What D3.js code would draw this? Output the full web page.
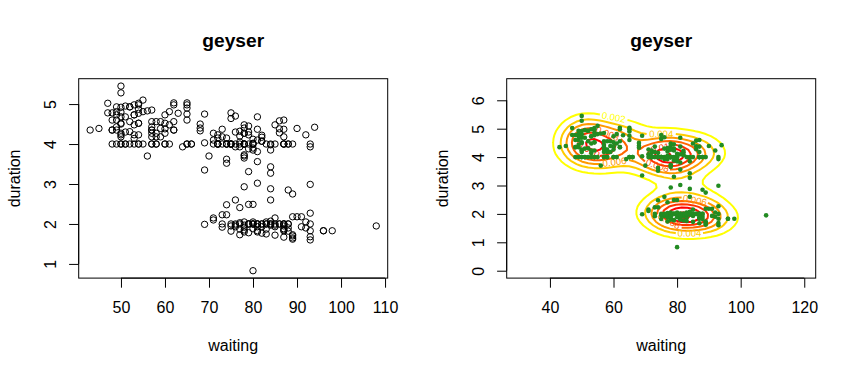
<!DOCTYPE html>
<html><head><meta charset="utf-8">
<script src="https://cdn.jsdelivr.net/npm/d3@7"></script>
<style>
body{margin:0;background:#fff}
text{font-family:"Liberation Sans",Arial,Helvetica,sans-serif}
</style>
</head><body>
<svg id="chart" width="856" height="376"></svg>
<script>
// ---- data ----
const waiting = [80,71,57,80,75,77,60,86,77,56,81,50,89,54,90,73,60,83,65,82,
84,54,85,58,79,57,88,68,76,78,74,85,75,65,76,58,91,50,87,48,
93,54,86,53,78,52,83,60,87,49,80,60,92,43,89,60,84,69,74,71,
108,50,77,57,80,61,82,48,81,73,62,79,54,80,73,81,62,81,71,79,
81,74,59,81,66,87,53,80,50,87,51,82,58,81,49,92,50,88,62,93,
56,89,51,79,58,82,52,88,52,78,69,75,77,53,80,55,87,53,85,61,
93,54,76,80,81,59,86,78,71,77,76,94,75,50,83,82,72,77,75,65,
79,72,78,77,79,75,78,64,80,49,88,54,85,51,96,50,80,78,81,72,
75,78,87,69,55,83,49,82,57,84,57,84,73,78,57,79,57,90,62,87,
78,52,98,48,78,79,65,84,50,83,60,80,50,88,50,84,74,76,65,89,
49,88,51,78,85,65,75,77,69,92,68,87,61,81,55,93,53,84,70,73,
93,50,87,77,74,72,82,74,80,49,91,53,86,49,79,89,87,76,59,80,
89,45,93,72,71,54,79,74,65,78,57,87,72,84,47,84,57,87,68,86,
75,73,53,82,93,77,54,96,48,89,63,84,76,62,83,50,85,78,78,81,
78,76,74,81,66,84,48,93,47,87,51,78,54,87,52,85,58,88,79];

const duration = [4.02,2.15,4.0,4.0,4.0,2.0,4.38,4.28,2.03,4.83,1.83,5.45,1.62,4.87,4.39,2.0,4.0,1.87,5.03,4.07,
2.88,4.52,1.93,4.0,2.0,4.35,4.0,4.5,3.93,4.27,3.52,4.48,1.95,4.9,2.6,4.18,2.18,4.8,1.83,4.35,
2.99,4.77,2.0,4.98,2.93,4.93,1.75,4.52,2.0,4.6,2.0,4.0,1.9,4.35,1.7,4.73,4.0,4.75,4.15,4.1,
1.95,5.28,2.41,4.43,2.0,4.81,1.77,4.0,3.56,2.23,5.03,2.0,4.0,4.0,4.37,1.8,4.56,4.1,4.27,4.3,
4.68,2.48,4.18,2.0,4.0,1.85,4.14,2.0,4.52,1.67,4.95,1.93,4.27,2.0,4.0,2.05,4.92,2.85,4.98,1.68,
3.7,1.73,4.0,2.49,4.56,2.0,4.31,1.9,4.0,4.0,3.35,4.64,1.73,4.73,2.49,4.81,2.0,4.23,1.97,4.48,
1.6,4.52,4.7,3.9,3.02,4.39,4.58,3.73,4.0,4.2,4.0,4.42,1.82,4.27,4.0,4.17,4.23,4.32,2.0,4.75,
4.23,4.0,4.48,3.93,3.31,4.78,1.85,3.93,2.05,4.43,1.82,4.0,2.0,4.68,1.83,4.18,3.85,4.0,4.37,4.15,
4.0,4.4,4.6,1.99,4.0,2.05,4.81,2.0,4.85,2.6,4.0,3.43,4.18,1.97,4.27,2.0,4.56,2.18,4.35,4.37,
2.05,4.93,1.83,4.6,3.7,1.78,4.6,2.0,4.0,2.0,4.27,1.88,4.23,2.0,4.5,3.98,4.0,1.93,4.0,2.75,
4.73,2.0,4.3,4.0,2.15,4.98,4.0,4.05,4.03,4.23,4.4,1.95,4.0,2.0,5.1,2.27,4.48,3.27,3.7,4.0,
1.83,4.0,4.18,4.0,3.62,4.0,4.07,4.0,0.83,4.93,1.93,4.0,2.0,4.35,4.45,4.0,4.0,1.97,4.56,4.12,
2.18,4.39,3.93,4.0,2.1,4.98,3.88,2.23,4.0,1.8,4.18,4.0,4.0,1.97,5.02,2.0,4.35,4.0,4.33,4.38,
4.0,1.92,4.73,4.22,4.0,1.87,5.02,1.83,4.78,1.65,4.77,3.85,2.0,4.35,2.0,4.68,4.0,4.27,3.65,3.81,
4.0,4.3,4.0,1.93,4.0,2.07,4.35,2.0,4.78,1.88,4.0,1.92,4.23,2.0,4.56,1.72,4.0,4.0,4.0];

const leftXTicks = [50,60,70,80,90,100,110];
const leftYTicks = [1,2,3,4,5];
const rightXTicks = [40,60,80,100,120];
const rightYTicks = [0,1,2,3,4,5,6];
const contourLevels = [0.002,0.004,0.006,0.008,0.010,0.012,0.014];
const contourColors = ["#FFFF00","#FFCC00","#FF9900","#FF6600","#FF3300","#FF0000","#FF0000"];
const kdeLims = [30,120,0,6.5];
const gridN = 50;
const titleText = "geyser";
const xLabel = "waiting";
const yLabel = "duration";

// ---- layout ----
const svg = d3.select("#chart");
svg.append("rect").attr("width",856).attr("height",376).attr("fill","#fff");
const panels = [
  {x0:78.7, x1:387.7},
  {x0:506.7, x1:815.7}
];
const plotTop = 78.7, plotBottom = 278.1;
const TICK = 9.6;

function ext(lo, hi){ const d=(hi-lo)*0.04; return [lo-d, hi+d]; }

function drawFrame(g, p, xs, ys, xt, yt){
  g.append("rect").attr("x",p.x0).attr("y",plotTop).attr("width",p.x1-p.x0).attr("height",plotBottom-plotTop)
   .attr("fill","none").attr("stroke","#000").attr("stroke-width",1);
  const ax = g.append("g").attr("transform",`translate(0,${plotBottom})`)
    .call(d3.axisBottom(xs).tickValues(xt).tickSize(TICK).tickSizeOuter(0).tickFormat(d3.format("d")));
  ax.select(".domain").remove();
  ax.append("line").attr("x1",xs(xt[0])).attr("x2",xs(xt[xt.length-1])).attr("stroke","#000");
  ax.selectAll(".tick text").attr("y",35.2).attr("dy",0).attr("font-size",16).attr("fill","#000")
    .attr("font-family",'"Liberation Sans",Arial,sans-serif');
  const ay = g.append("g").attr("transform",`translate(${p.x0},0)`)
    .call(d3.axisLeft(ys).tickValues(yt).tickSize(TICK).tickSizeOuter(0).tickFormat(d3.format("d")));
  ay.select(".domain").remove();
  ay.append("line").attr("y1",ys(yt[0])).attr("y2",ys(yt[yt.length-1])).attr("stroke","#000");
  ay.selectAll(".tick text").attr("x",null).attr("dy",0).attr("text-anchor","middle")
    .attr("transform","translate(-22.5,0) rotate(-90)").attr("font-size",16).attr("fill","#000")
    .attr("font-family",'"Liberation Sans",Arial,sans-serif');
  g.selectAll(".tick line").attr("stroke","#000");
  const cx = (p.x0+p.x1)/2;
  g.append("text").attr("x",cx).attr("y",47).attr("text-anchor","middle")
    .attr("font-size",19.2).attr("font-weight","bold").text(titleText);
  g.append("text").attr("x",cx).attr("y",350.5).attr("text-anchor","middle")
    .attr("font-size",16).text(xLabel);
  g.append("text").attr("transform",`translate(${p.x0-59.2},${(plotTop+plotBottom)/2}) rotate(-90)`)
    .attr("text-anchor","middle").attr("font-size",16).text(yLabel);
}

// ---- left panel: scatter ----
{
  const p = panels[0];
  const xs = d3.scaleLinear().domain(ext(d3.min(waiting), d3.max(waiting))).range([p.x0,p.x1]);
  const ys = d3.scaleLinear().domain(ext(d3.min(duration), d3.max(duration))).range([plotBottom,plotTop]);
  const g = svg.append("g");
  drawFrame(g,p,xs,ys,leftXTicks,leftYTicks);
  g.append("g").selectAll("circle").data(waiting).join("circle")
    .attr("cx",(d)=>xs(d)).attr("cy",(d,i)=>ys(duration[i])).attr("r",3.2)
    .attr("fill","none").attr("stroke","#000").attr("stroke-width",1);
}

// ---- right panel: kde2d contour + points ----
{
  const p = panels[1];
  const xs = d3.scaleLinear().domain(ext(kdeLims[0],kdeLims[1])).range([p.x0,p.x1]);
  const ys = d3.scaleLinear().domain(ext(kdeLims[2],kdeLims[3])).range([plotBottom,plotTop]);
  const g = svg.append("g");
  drawFrame(g,p,xs,ys,rightXTicks,rightYTicks);

  function q7(a,pr){const s=[...a].sort((u,v)=>u-v);const h=(s.length-1)*pr;const lo=Math.floor(h);
    return s[lo]+(h-lo)*(s[Math.min(lo+1,s.length-1)]-s[lo]);}
  function bw(a){const iqr=(q7(a,0.75)-q7(a,0.25))/1.34;return 4*1.06*Math.min(d3.deviation(a),iqr)*Math.pow(a.length,-0.2);}
  const hx = bw(waiting)/4, hy = bw(duration)/4;
  const N = gridN, n = waiting.length;
  const gx = d3.range(N).map(i=>kdeLims[0]+i*(kdeLims[1]-kdeLims[0])/(N-1));
  const gy = d3.range(N).map(j=>kdeLims[2]+j*(kdeLims[3]-kdeLims[2])/(N-1));
  const dn = t=>Math.exp(-0.5*t*t)/Math.sqrt(2*Math.PI);
  const ax = gx.map(x=>waiting.map(w=>dn((x-w)/hx)));
  const ay = gy.map(y=>duration.map(d=>dn((y-d)/hy)));
  const vals = new Array(N*N);
  for(let j=0;j<N;j++) for(let i=0;i<N;i++){
    let s=0; for(let k=0;k<n;k++) s+=ax[i][k]*ay[j][k];
    vals[j*N+i]=s/(n*hx*hy);
  }
  const stepx=(kdeLims[1]-kdeLims[0])/(N-1), stepy=(kdeLims[3]-kdeLims[2])/(N-1);
  const cons = d3.contours().size([N,N]).thresholds(contourLevels)(vals);
  const cg = g.append("g");
  const placed = [];
  const fmt = d3.format(".3f");
  cons.forEach((c,li)=>{
    const col = contourColors[li % contourColors.length];
    const label = fmt(c.value);
    c.coordinates.forEach(poly=>poly.forEach(ring=>{
      const pts = ring.map(([u,v])=>[xs(kdeLims[0]+(u-0.5)*stepx), ys(kdeLims[2]+(v-0.5)*stepy)]);
      const m = pts.length-1;
      const t = cg.append("text").attr("font-size",9.6).attr("fill",col).text(label);
      const w = t.node().getComputedTextLength()+2;
      let best=null;
      let perim=0; for(let k=0;k<m;k++) perim+=Math.hypot(pts[k+1][0]-pts[k][0],pts[k+1][1]-pts[k][1]);
      if(perim>w*2.2){
        for(let s=0;s<m;s++){
          let e=-1;
          for(let k=1;k<m;k++){const id=(s+k)%m;
            if(Math.hypot(pts[id][0]-pts[s][0],pts[id][1]-pts[s][1])>=w){e=id;break;}}
          if(e<0) continue;
          const [ax0,ay0]=pts[s],[bx,by]=pts[e];const L=Math.hypot(bx-ax0,by-ay0);
          let dev=0;
          for(let k=s;k!==e;k=(k+1)%m){const d=Math.abs((bx-ax0)*(ay0-pts[k][1])-(ax0-pts[k][0])*(by-ay0))/L;if(d>dev)dev=d;}
          const mx=(ax0+bx)/2,my=(ay0+by)/2;
          const box=[mx-w/2,my-6,mx+w/2,my+6];
          const clash=placed.some(b=>!(box[2]<b[0]||box[0]>b[2]||box[3]<b[1]||box[1]>b[3]));
          if(clash) continue;
          if(!best||dev<best.dev-1e-9) best={s,e,dev,mx,my,ang:Math.atan2(by-ay0,bx-ax0)*180/Math.PI,box};
        }
      }
      let linePts;
      if(best){
        linePts=[]; for(let k=best.e;k!==best.s;k=(k+1)%m) linePts.push(pts[k]); linePts.push(pts[best.s]);
        let ang=best.ang; if(ang>90)ang-=180; if(ang<-90)ang+=180;
        t.attr("text-anchor","middle").attr("dy","0.35em")
         .attr("transform",`translate(${best.mx},${best.my}) rotate(${ang})`);
        placed.push(best.box);
      } else { t.remove(); linePts=pts; }
      cg.insert("path","text").attr("d",d3.line()(linePts)).attr("fill","none")
        .attr("stroke",col).attr("stroke-width",2).attr("stroke-linejoin","round");
    }));
  });
  g.append("g").selectAll("circle").data(waiting).join("circle")
    .attr("cx",(d)=>xs(d)).attr("cy",(d,i)=>ys(duration[i])).attr("r",2.3)
    .attr("fill","#228B22");
}
</script>
</body></html>
